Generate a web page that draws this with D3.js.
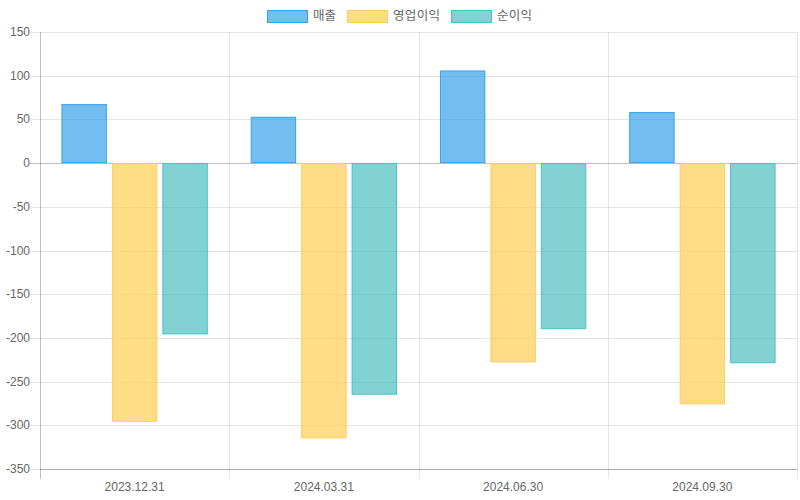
<!DOCTYPE html>
<html><head><meta charset="utf-8">
<script src="https://cdn.jsdelivr.net/npm/d3@7/dist/d3.min.js"></script>
<style>body{margin:0;background:#fff}svg{display:block}text{font-family:"Liberation Sans",Arial,"Noto Sans CJK KR",sans-serif}</style>
</head><body><svg id="c" width="800" height="500"></svg>
<script>
const categories = ["2023.12.31","2024.03.31","2024.06.30","2024.09.30"];
const seriesNames = ["매출","영업이익","순이익"];
const sales = [67.5, 53, 106, 58.4];
const opIncome = [-296, -315, -228, -276];
const netIncome = [-196, -265, -190, -229];
const yTicks = [150,100,50,0,-50,-100,-150,-200,-250,-300,-350];

const fills = ["rgba(54,162,235,0.7)","rgba(255,205,86,0.7)","rgba(75,192,192,0.7)"];
const strokes = ["rgb(54,162,235)","rgb(255,205,86)","rgb(75,192,192)"];
const series = [sales, opIncome, netIncome];

const svg = d3.select("#c");
const L = 40, R = 797, T = 32, B = 469;
const x = d3.scaleBand().domain(categories).range([L, R]);
const y = d3.scaleLinear().domain([-350, 150]).range([B, T]);

const catW = x.bandwidth();
const groupW = catW * 0.8;
const slotW = groupW / series.length;
const barW = slotW * 0.9;

const g = svg.append("g");
yTicks.forEach(t => {
  const py = Math.round(y(t)) + 0.5;
  g.append("line").attr("x1", L - 10).attr("x2", R).attr("y1", py).attr("y2", py)
    .attr("stroke", t === 0 ? "rgba(0,0,0,0.25)" : "rgba(0,0,0,0.1)").attr("stroke-width", 1);
  g.append("text").attr("x", 30).attr("y", py).attr("text-anchor", "end").attr("dominant-baseline", "middle")
    .attr("font-size", 12).attr("fill", "#666").text(t);
});
const bounds = categories.map(c => x(c)).concat([R]);
bounds.forEach((bx, i) => {
  const px = Math.round(bx) + 0.5;
  g.append("line").attr("x1", px).attr("x2", px).attr("y1", T).attr("y2", B + 10)
    .attr("stroke", i === 0 ? "rgba(0,0,0,0.25)" : "rgba(0,0,0,0.1)");
});
g.append("line").attr("x1", L).attr("x2", R).attr("y1", B + 0.5).attr("y2", B + 0.5).attr("stroke", "rgba(0,0,0,0.25)");

categories.forEach(c => {
  g.append("text").attr("x", x(c) + catW / 2).attr("y", 491).attr("text-anchor", "middle")
    .attr("font-size", 12).attr("fill", "#666").text(c);
});

series.forEach((vals, si) => {
  svg.append("g").selectAll("rect").data(vals).join("rect")
    .attr("x", (d, i) => x(categories[i]) + catW * 0.1 + slotW * si + (slotW - barW) / 2 + 0.5)
    .attr("width", barW - 1)
    .attr("y", d => Math.min(y(d), y(0)) + 0.5)
    .attr("height", d => Math.abs(y(d) - y(0)) - 1)
    .attr("fill", fills[si]).attr("stroke", strokes[si]).attr("stroke-width", 1);
});

const lg = svg.append("g");
const items = seriesNames.map((n, i) => {
  const gi = lg.append("g");
  gi.append("rect").attr("x", 0.5).attr("y", 10.5).attr("width", 40).attr("height", 12)
    .attr("fill", fills[i]).attr("stroke", strokes[i]);
  const tw = n.length * 12;
  gi.append("text").attr("x", 46).attr("y", 16.5).attr("dominant-baseline", "middle")
    .attr("font-size", 12.5).attr("fill", "#666").attr("textLength", tw - 1).attr("lengthAdjust", "spacing").text(n);
  return {gi, w: 46 + tw};
});
const pad = 10;
const total = d3.sum(items, d => d.w) + pad * (items.length - 1);
let cx = 400 - total / 2;
items.forEach(it => { it.gi.attr("transform", `translate(${cx},0)`); cx += it.w + pad; });
</script></body></html>
